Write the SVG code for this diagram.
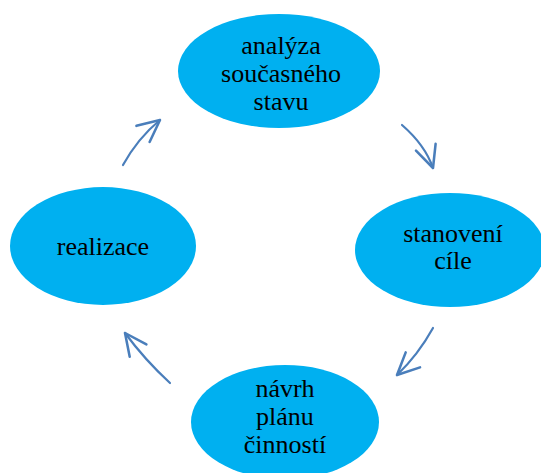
<svg xmlns="http://www.w3.org/2000/svg" width="541" height="473" viewBox="0 0 541 473">
<style>
.node{fill:#00b0f0;stroke:none}
.lbl{font-family:"Liberation Serif","Times New Roman",serif;font-size:26px;fill:#000;text-anchor:middle}
.arr{fill:none;stroke:#4a7ebb;stroke-width:2.2;stroke-linecap:round;marker-end:url(#ah)}
</style>
<defs>
<marker id="ah" markerUnits="userSpaceOnUse" markerWidth="30" markerHeight="30" refX="0" refY="0" viewBox="-22 -12 26 24" orient="auto">
<path d="M-19,-9 L0,0 L-19,9" fill="none" stroke="#4a7ebb" stroke-width="2.2" stroke-linecap="round" stroke-linejoin="round"/>
</marker>
</defs>
<rect width="541" height="473" fill="#fff"/>
<g id="n1"><ellipse class="node" cx="279" cy="71" rx="101" ry="57"/>
<text class="lbl" x="281" y="54">analýza</text><text class="lbl" x="281" y="82">současného</text><text class="lbl" x="281" y="110">stavu</text></g>
<g id="n2"><ellipse class="node" cx="450" cy="250" rx="95" ry="57"/>
<text class="lbl" x="453" y="242">stanovení</text><text class="lbl" x="453" y="269">cíle</text></g>
<g id="n3"><ellipse class="node" cx="285" cy="422" rx="94" ry="57"/>
<text class="lbl" x="285" y="397">návrh</text><text class="lbl" x="285" y="425">plánu</text><text class="lbl" x="285" y="453">činností</text></g>
<g id="n4"><ellipse class="node" cx="103" cy="246" rx="93" ry="59"/>
<text class="lbl" x="103" y="255">realizace</text></g>
<g id="connectors">
<path class="arr" d="M123,165 Q138,138 160,120"/>
<path class="arr" d="M402,125 Q425,145 433,168"/>
<path class="arr" d="M433,328 Q418,355 397,375"/>
<path class="arr" d="M170,383 Q145,360 125,333"/>
</g>
</svg>
